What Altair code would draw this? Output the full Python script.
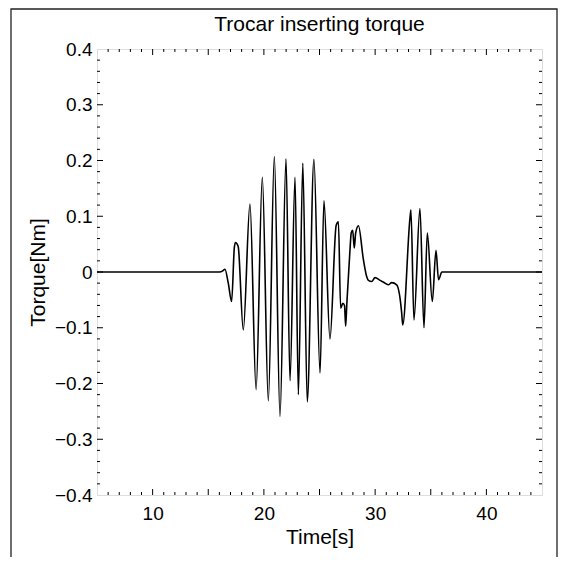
import altair as alt
import pandas as pd

# ---- data ----
time_s = [5.0, 8.0, 12.0, 15.0, 16.0, 16.3, 16.5, 16.8, 17.1, 17.35, 17.45, 17.6, 17.7,
          18.15, 18.75, 19.3, 19.86, 20.4, 20.94, 21.45, 21.99, 22.35, 22.8, 23.1, 23.5,
          23.9, 24.5, 25.05, 25.4, 25.94, 26.5, 26.7, 26.9, 27.1, 27.25, 27.35, 27.45,
          27.74, 27.85, 27.98, 28.13, 28.25, 28.5, 28.94, 29.24, 29.4, 29.69, 29.99, 30.44,
          30.73, 31.18, 31.49, 31.94, 32.39, 32.48, 33.13, 33.22, 33.49, 34.03, 34.39, 34.69,
          35.14, 35.47, 35.7, 36.0, 38.0, 41.0, 45.0]
torque_nm = [0.0, 0.0, 0.0, 0.0, 0.0, 0.002, 0.005, -0.02, -0.053, 0.045, 0.053, 0.05, 0.045,
             -0.104, 0.122, -0.211, 0.170, -0.231, 0.207, -0.259, 0.203, -0.195, 0.170, -0.220, 0.195,
             -0.233, 0.202, -0.181, 0.128, -0.120, 0.084, 0.090, -0.065, -0.056, -0.060, -0.097, -0.060,
             0.040, 0.070, 0.075, 0.043, 0.070, 0.083, 0.023, -0.008, -0.015, -0.017, -0.010, -0.015,
             -0.018, -0.023, -0.019, -0.023, -0.074, -0.095, 0.096, 0.111, -0.086, 0.114, -0.100, 0.070,
             -0.053, 0.039, -0.014, 0.0, 0.0, 0.0, 0.0]

x_labels = [10, 20, 30, 40]
y_labels = [-0.4, -0.3, -0.2, -0.1, 0.0, 0.1, 0.2, 0.3, 0.4]
x_major_ticks = [10, 15, 20, 25, 30, 35, 40]
x_minor_ticks = [v for v in range(6, 45) if v % 5 != 0]
y_major_ticks = [-0.3, -0.2, -0.1, 0.0, 0.1, 0.2, 0.3]
y_minor_ticks = [round(-0.38 + 0.02 * i, 2) for i in range(39) if round((-0.38 + 0.02 * i) * 100) % 10 != 0]

W, H = 445, 446
FONT = "Liberation Sans"

xscale = alt.Scale(domain=[5, 45], nice=False, zero=False)
yscale = alt.Scale(domain=[-0.4, 0.4], nice=False, zero=False)

df = pd.DataFrame({"t": time_s, "v": torque_nm})

line = alt.Chart(df).mark_line(color="black", strokeWidth=1.6, interpolate="monotone", clip=True).encode(
    x=alt.X("t:Q", scale=xscale,
            axis=alt.Axis(values=x_labels, ticks=False, domain=False, grid=False, labelFontSize=19,
                          labelFont=FONT, labelColor="black", labelPadding=9, title="Time[s]",
                          titleFont=FONT, titleFontSize=21, titleFontWeight="normal",
                          titleColor="black", titlePadding=3)),
    y=alt.Y("v:Q", scale=yscale,
            axis=alt.Axis(values=y_labels, ticks=False, domain=False, grid=False, labelFontSize=19,
                          labelFont=FONT, labelColor="black", labelPadding=5,
                          labelExpr="datum.value == 0 ? '0' : format(datum.value, '.1f')",
                          title="Torque[Nm]", titleFont=FONT, titleFontSize=21,
                          titleFontWeight="normal", titleColor="black", titlePadding=6)),
)


def xticks(vals, length):
    d = pd.DataFrame({"t": vals})
    base = alt.Chart(d).mark_rule(color="black", strokeWidth=1)
    bottom = base.encode(x=alt.X("t:Q", scale=xscale), y=alt.value(H), y2=alt.value(H - length))
    top = base.encode(x=alt.X("t:Q", scale=xscale), y=alt.value(0), y2=alt.value(length))
    return [bottom, top]


def yticks(vals, length):
    d = pd.DataFrame({"v": vals})
    base = alt.Chart(d).mark_rule(color="black", strokeWidth=1)
    left = base.encode(y=alt.Y("v:Q", scale=yscale), x=alt.value(0), x2=alt.value(length))
    right = base.encode(y=alt.Y("v:Q", scale=yscale), x=alt.value(W), x2=alt.value(W - length))
    return [left, right]


frame = alt.Chart(pd.DataFrame({"a": [0]})).mark_rect(fillOpacity=0, stroke="#222", strokeWidth=1.3).encode(
    x=alt.value(-86), x2=alt.value(460), y=alt.value(-40), y2=alt.value(600)
)

layers = [line] + xticks(x_major_ticks, 6) + xticks(x_minor_ticks, 3) \
    + yticks(y_major_ticks, 6) + yticks(y_minor_ticks, 3) + [frame]

chart = alt.layer(*layers).properties(
    width=W, height=H,
    title=alt.TitleParams("Trocar inserting torque", font=FONT, fontSize=21, fontWeight="normal",
                          color="black", anchor="middle", offset=-27),
    autosize=alt.AutoSizeParams(type="none"),
    padding={"left": 89, "top": 41, "right": 17, "bottom": 62},
).configure_view(stroke="black", strokeWidth=1.3).configure(background="white")

chart.save("out.html", embed_options={"renderer": "svg", "actions": False})
